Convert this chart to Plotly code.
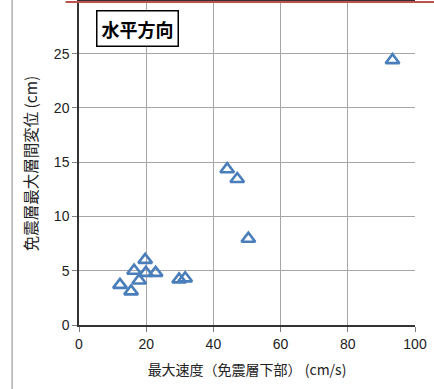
import plotly.graph_objects as go

# Peak velocity below the isolation layer (cm/s) vs. peak isolation-layer drift (cm)
velocity = [12.2, 15.5, 16.4, 17.9, 19.7, 19.9, 22.8, 29.8, 31.6, 44.1, 47.1, 50.4, 93.3]
drift = [3.7, 3.1, 5.0, 4.1, 6.0, 4.8, 4.8, 4.2, 4.3, 14.35, 13.45, 7.95, 24.4]

x_ticks = [0, 20, 40, 60, 80, 100]
y_ticks = [0, 5, 10, 15, 20, 25, 30]

label_font = "Liberation Sans, Noto Sans CJK JP, sans-serif"
cjk_font = "Noto Sans CJK JP, sans-serif"

fig = go.Figure()
fig.add_trace(go.Scatter(
    x=velocity, y=drift, mode="markers",
    marker=dict(symbol="triangle-up-open", size=12, color="#4a7ebb",
                line=dict(width=2.6, color="#4a7ebb")),
    showlegend=False, cliponaxis=False,
))

fig.update_layout(
    width=434, height=389,
    margin=dict(l=79, r=19, t=0, b=64),
    paper_bgcolor="white", plot_bgcolor="white",
    font=dict(family=label_font, size=14, color="#222222"),
    xaxis=dict(
        range=[0, 100], tickvals=x_ticks, ticks="outside", ticklen=5,
        tickcolor="#808080", showgrid=True, gridcolor="#a6a6a6", gridwidth=1.2,
        showline=True, linecolor="#333333", linewidth=1.5, mirror=True,
        zeroline=False, tickfont=dict(size=14),
        title=dict(text="最大速度（免震層下部） (cm/s)",
                   font=dict(family=cjk_font, size=14), standoff=15),
    ),
    yaxis=dict(
        range=[0, 29.76], tickvals=y_ticks, ticks="outside", ticklen=5,
        tickcolor="#808080", showgrid=True, gridcolor="#a6a6a6", gridwidth=1.2,
        showline=True, linecolor="#333333", linewidth=1.5,
        zeroline=False, tickfont=dict(size=14),
        title=dict(text="免震層最大層間変位 (cm)",
                   font=dict(family=cjk_font, size=15.5), standoff=12),
    ),
)

# title box inside the plot
fig.add_annotation(
    x=5.0, y=27.3, xref="x", yref="y", xanchor="left", yanchor="middle",
    showarrow=False,
    text="<b>水平方向</b>", font=dict(family=cjk_font, size=18, color="black"),
    bordercolor="black", borderwidth=1.5, borderpad=4, bgcolor="white",
)

# outer chart-area border on the left and the top edge line
fig.add_shape(type="line", xref="paper", yref="paper",
              x0=-0.199, x1=-0.199, y0=-0.2, y1=1.1,
              line=dict(color="#b0b0b0", width=1.5))
fig.add_shape(type="line", xref="paper", yref="paper",
              x0=-0.04, x1=1.1, y0=1.0, y1=1.0,
              line=dict(color="#c0504d", width=2))

fig.write_html("out.html")
